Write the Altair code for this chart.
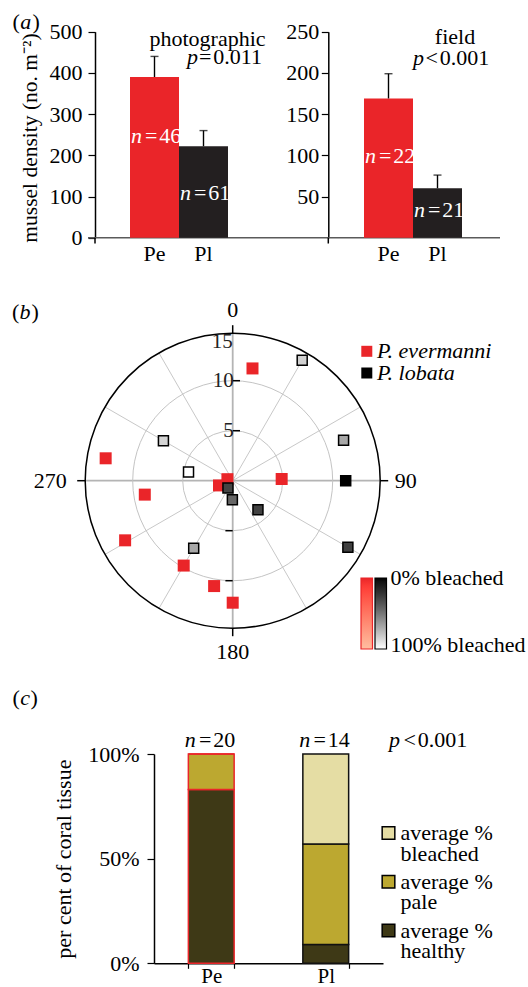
import altair as alt
import pandas as pd

FONT = "Liberation Serif"
FS = 22
RED = "#ea2529"
BLACK = "#231f20"
W, H = 528, 987
HAIR = "\u200a"

# ---------------- data ----------------
species = ["Pe", "Pl"]
photo_mean = [390, 222]
photo_err = [50, 38]
photo_n = [46, 61]
field_mean = [169, 60]
field_err = [30, 16]
field_n = [22, 21]

# polar panel: compass bearing (deg), distance, % bleached
pe_angle = [10, 88, 286, 251, 261, 241, 210, 190, 180, 280]
pe_dist = [11.4, 4.9, 0.55, 1.45, 8.9, 12.3, 9.8, 10.7, 12.2, 12.9]
pe_bleached = [0, 0, 0, 0, 0, 0, 0, 0, 0, 0]
pl_angle = [30, 70, 90, 120, 139, 181, 213, 210, 281, 300]
pl_dist = [13.9, 11.8, 11.3, 13.3, 3.85, 1.9, 0.87, 7.8, 4.5, 8.0]
pl_bleached = [84, 69, 0, 27, 28, 43, 29, 69, 100, 85]

spoke_angles = [0, 30, 60, 90, 120, 150, 180, 210, 240, 270, 300, 330]
ring_values = [5, 10]
ring_labels = [5, 10]
cardinal_angles = [0, 90, 180, 270]
cardinal_labels = ["0", "90", "180", "270"]
sp_names = ["P. evermanni", "P. lobata"]
bleach_labels = ["0% bleached", "100% bleached"]

tissue_species = ["Pe", "Pe", "Pe", "Pl", "Pl", "Pl"]
tissue_state = ["healthy", "pale", "bleached", "healthy", "pale", "bleached"]
tissue_pct = [83, 17, 0, 9, 48, 43]
tissue_n = [20, 14]
state_order = ["healthy", "pale", "bleached"]
state_colors = ["#3e3916", "#bca830", "#e5dda4"]
legend_states = ["bleached", "pale", "healthy"]

# ---------------- layout constants ----------------
A_Y0, A_Y1 = 237.7, 31.7
CX, CY = 232.7, 480.7
PPU = 10.0
DOM = 20
R_OUT = 14.75
C_Y0, C_Y1 = 963.3, 754.0

ONE = pd.DataFrame({"k": [0]})


def seg(s, x, y, align="left", italic=False, color="black", size=FS, angle=0):
    kw = dict(text=s, font=FONT, fontSize=size, fontStyle="italic" if italic else "normal",
              align=align, baseline="middle", color=color)
    if angle:
        kw["angle"] = angle
    return alt.Chart(ONE).mark_text(**kw).encode(x=alt.value(x), y=alt.value(y))


# ---------------- panel (a) ----------------
def density_panel(mean, err, ns, ymax, yvals, axis_x, xr, lab_pad, n_y):
    df = pd.DataFrame({"species": species, "mean": mean, "err": err, "n": ns})
    base = alt.Chart(df).transform_calculate(
        hi="datum.mean + datum.err", rest="'=" + HAIR + "' + datum.n"
    )

    def xs():
        return alt.Scale(domain=species, range=xr, paddingInner=0, paddingOuter=0)

    def ys():
        return alt.Scale(domain=[0, ymax], range=[A_Y0, A_Y1], nice=False, zero=True)

    xax = alt.Axis(orient="bottom", offset=A_Y0 - H, domain=False, ticks=False, labelAngle=0,
                   labelFont=FONT, labelFontSize=FS, labelColor="black", labelPadding=5.5)
    yax = alt.Axis(orient="left", offset=-axis_x, values=yvals, tickSize=7, tickColor="black",
                   tickWidth=1.2, domainColor="black", domainWidth=1.5, labelFont=FONT,
                   labelFontSize=FS, labelColor="black", labelPadding=lab_pad, grid=False)
    bars = base.mark_bar().encode(
        x=alt.X("species:N", scale=xs(), title="", axis=xax),
        y=alt.Y("mean:Q", scale=ys(), title="", axis=yax),
        fill=alt.Fill("species:N", scale=alt.Scale(domain=species, range=[RED, BLACK]), legend=None),
    )
    rule = base.mark_rule(color="black", strokeWidth=1.4).encode(
        x=alt.X("species:N", scale=xs(), axis=None),
        y=alt.Y("mean:Q", scale=ys(), axis=None), y2="hi:Q")
    cap = base.mark_tick(color="black", thickness=1.4, size=8).encode(
        x=alt.X("species:N", scale=xs(), axis=None),
        y=alt.Y("hi:Q", scale=ys(), axis=None))
    parts = [bars, rule, cap]
    for sp, yv in zip(species, n_y):
        f = base.transform_filter(alt.datum.species == sp)
        parts.append(f.mark_text(text="n", font=FONT, fontSize=FS, fontStyle="italic",
                                 align="right", baseline="middle", dx=-12.5, color="white")
                     .encode(x=alt.X("species:N", scale=xs(), axis=None), y=alt.value(yv)))
        parts.append(f.mark_text(font=FONT, fontSize=FS, align="left", baseline="middle",
                                 dx=-9.5, color="white")
                     .encode(x=alt.X("species:N", scale=xs(), axis=None), y=alt.value(yv),
                             text="rest:N"))
    return parts


panel_a1 = density_panel(photo_mean, photo_err, photo_n, 500, [0, 100, 200, 300, 400, 500],
                         95, [130, 228], 6, [136, 192.5])
panel_a2 = density_panel(field_mean, field_err, field_n, 250, [50, 100, 150, 200, 250],
                         328.3, [364, 462], 2.5, [156, 210])

a_lines = [
    alt.Chart(ONE).mark_rule(color="#5a5a5a", strokeWidth=1.6).encode(
        x=alt.value(88), x2=alt.value(500), y=alt.value(A_Y0)),
    alt.Chart(ONE).mark_rule(color="black", strokeWidth=1.5).encode(
        x=alt.value(95), y=alt.value(A_Y0), y2=alt.value(243.5)),
    alt.Chart(ONE).mark_rule(color="black", strokeWidth=1.5).encode(
        x=alt.value(328.3), y=alt.value(A_Y0), y2=alt.value(243.5)),
]

# ---------------- panel (b) polar ----------------
PXS = alt.Scale(domain=[-DOM, DOM], range=[CX - DOM * PPU, CX + DOM * PPU], nice=False, zero=False)
PYS = alt.Scale(domain=[-DOM, DOM], range=[CY + DOM * PPU, CY - DOM * PPU], nice=False, zero=False)


def PX(f):
    return alt.X(f, scale=PXS, axis=None)


def PY(f):
    return alt.Y(f, scale=PYS, axis=None)


def sinr(r, a="datum.angle"):
    return f"({r})*sin({a}*PI/180)"


def cosr(r, a="datum.angle"):
    return f"({r})*cos({a}*PI/180)"


spk = alt.Chart(pd.DataFrame({"angle": spoke_angles})).transform_calculate(
    x0="0", y0="0", x1=sinr(R_OUT), y1=cosr(R_OUT))
spokes_minor = spk.transform_filter("datum.angle % 90 != 0").mark_rule(
    color="#c8c8c8", strokeWidth=1).encode(x=PX("x0:Q"), y=PY("y0:Q"), x2="x1:Q", y2="y1:Q")
spokes_major = spk.transform_filter("datum.angle % 90 == 0").mark_rule(
    color="#b4b4b4", strokeWidth=1.8).encode(x=PX("x0:Q"), y=PY("y0:Q"), x2="x1:Q", y2="y1:Q")

rings = alt.Chart(pd.DataFrame({"r": ring_values})).transform_calculate(
    c="0", sz=f"4*pow(datum.r*{PPU}, 2)").mark_point(
    shape="circle", filled=False, color="#c4c4c4", strokeWidth=1, opacity=1).encode(
    x=PX("c:Q"), y=PY("c:Q"), size=alt.Size("sz:Q", scale=None))
outer = alt.Chart(pd.DataFrame({"r": [R_OUT]})).transform_calculate(
    c="0", sz=f"4*pow(datum.r*{PPU}, 2)").mark_point(
    shape="circle", filled=False, color="black", strokeWidth=1.5, opacity=1).encode(
    x=PX("c:Q"), y=PY("c:Q"), size=alt.Size("sz:Q", scale=None))

card = alt.Chart(pd.DataFrame({"angle": cardinal_angles, "label": cardinal_labels}))
outer_ticks = card.transform_calculate(
    x0=sinr(R_OUT), y0=cosr(R_OUT), x1=sinr(R_OUT + 0.8), y1=cosr(R_OUT + 0.8)).mark_rule(
    color="black", strokeWidth=1.5).encode(x=PX("x0:Q"), y=PY("y0:Q"), x2="x1:Q", y2="y1:Q")

rt = alt.Chart(pd.DataFrame({"r": ring_values}))
ring_ticks_top = rt.transform_calculate(x0="0", x1="0.73", y="datum.r").mark_rule(
    color="black", strokeWidth=1.5).encode(x=PX("x0:Q"), x2="x1:Q", y=PY("y:Q"))
ring_ticks_bot = rt.transform_calculate(x0="-0.73", x1="0", y="-datum.r").mark_rule(
    color="black", strokeWidth=1.5).encode(x=PX("x0:Q"), x2="x1:Q", y=PY("y:Q"))

rl = alt.Chart(pd.DataFrame({"r": ring_labels})).transform_calculate(x="0")
ring_lab = rl.mark_text(font=FONT, fontSize=21, align="right", baseline="middle", dx=1,
                        color="#222").encode(x=PX("x:Q"), y=PY("r:Q"), text="r:Q")
ring_lab15 = alt.Chart(pd.DataFrame({"r": [15]})).transform_calculate(x="0").mark_text(
    font=FONT, fontSize=21, align="right", baseline="middle", dx=0, dy=11, color="#222").encode(
    x=PX("x:Q"), y=PY("r:Q"), text="r:Q")

lab_v = card.transform_filter("datum.angle % 180 == 0").transform_calculate(
    x=sinr(17.1), y=cosr(17.1)).mark_text(
    font=FONT, fontSize=FS, align="center", baseline="middle").encode(
    x=PX("x:Q"), y=PY("y:Q"), text="label:N")
lab_e = card.transform_filter("datum.angle == 90").transform_calculate(
    x=sinr(16.2), y=cosr(16.2)).mark_text(
    font=FONT, fontSize=FS, align="left", baseline="middle").encode(
    x=PX("x:Q"), y=PY("y:Q"), text="label:N")
lab_w = card.transform_filter("datum.angle == 270").transform_calculate(
    x=sinr(16.6), y=cosr(16.6)).mark_text(
    font=FONT, fontSize=FS, align="right", baseline="middle").encode(
    x=PX("x:Q"), y=PY("y:Q"), text="label:N")

pe_df = pd.DataFrame({"angle": pe_angle, "r": pe_dist, "bleached": pe_bleached})
pl_df = pd.DataFrame({"angle": pl_angle, "r": pl_dist, "bleached": pl_bleached})


def grad_legend(x, stroke):
    return alt.Legend(type="gradient", direction="vertical", orient="none",
                      legendX=x, legendY=578, gradientLength=71, gradientThickness=11.5,
                      gradientStrokeColor=stroke, gradientStrokeWidth=1.2,
                      labelExpr="''", padding=0, title="")


pe_pts = alt.Chart(pe_df).transform_calculate(
    x=sinr("datum.r"), y=cosr("datum.r")).mark_square(size=144, opacity=1).encode(
    x=PX("x:Q"), y=PY("y:Q"),
    fill=alt.Fill("bleached:Q", scale=alt.Scale(domain=[100, 0], range=["#ffffff", RED]),
                  legend=grad_legend(361, RED)))
pl_pts = alt.Chart(pl_df).transform_calculate(
    x=sinr("datum.r"), y=cosr("datum.r")).mark_square(
    size=100, opacity=1, stroke="black", strokeWidth=1.5).encode(
    x=PX("x:Q"), y=PY("y:Q"),
    fill=alt.Fill("bleached:Q", scale=alt.Scale(domain=[100, 0], range=["#ffffff", "#000000"]),
                  legend=grad_legend(375, "black")))

polar = alt.layer(spokes_minor, spokes_major, rings, outer, outer_ticks,
                  ring_ticks_top, ring_ticks_bot, ring_lab, ring_lab15,
                  lab_v, lab_e, lab_w, pe_pts, pl_pts).resolve_scale(fill="independent")

sp_df = pd.DataFrame({"name": sp_names})
sp_y = alt.Y("name:N", scale=alt.Scale(type="point", domain=sp_names, range=[351.3, 373], padding=0),
             axis=None)
sp_legend = alt.layer(
    alt.Chart(sp_df).mark_square(size=121, opacity=1).encode(
        x=alt.value(366.8), y=sp_y,
        fill=alt.Fill("name:N", scale=alt.Scale(domain=sp_names, range=[RED, "#000000"]), legend=None)),
    alt.Chart(sp_df).mark_text(font=FONT, fontSize=FS, fontStyle="italic", align="left",
                               baseline="middle").encode(x=alt.value(377), y=sp_y, text="name:N"),
)

bl_df = pd.DataFrame({"label": bleach_labels})
bleach_text = alt.Chart(bl_df).mark_text(font=FONT, fontSize=FS, align="left",
                                         baseline="middle").encode(
    x=alt.value(390.5),
    y=alt.Y("label:N", scale=alt.Scale(type="point", domain=bleach_labels, range=[578, 645],
                                        padding=0), axis=None),
    text="label:N")

# ---------------- panel (c) ----------------
tis = pd.DataFrame({"species": tissue_species, "state": tissue_state, "pct": tissue_pct})
cbase = alt.Chart(tis).transform_calculate(ord="indexof(['healthy','pale','bleached'], datum.state)")


def cxs():
    return alt.Scale(domain=species, range=[154, 383], paddingInner=0.6, paddingOuter=0.3)


cbars = cbase.mark_bar(strokeWidth=1.5).encode(
    x=alt.X("species:N", scale=cxs(), title="",
            axis=alt.Axis(orient="bottom", offset=C_Y0 - H, tickBand="extent", tickSize=5,
                          tickColor="black", tickWidth=1.2, domainColor="black", domainWidth=1.5,
                          labelAngle=0, labelFont=FONT, labelFontSize=21, labelColor="black",
                          labelPadding=-3.2)),
    y=alt.Y("pct:Q", stack="zero",
            scale=alt.Scale(domain=[0, 100], range=[C_Y0, C_Y1], nice=False),
            title="per cent of coral tissue",
            axis=alt.Axis(orient="left", offset=-154, values=[0, 50, 100],
                          labelExpr="datum.value + '%'", tickSize=7, tickColor="black",
                          tickWidth=1.2, domainColor="black", domainWidth=1.5, grid=False,
                          labelFont=FONT, labelFontSize=FS, labelColor="black", labelPadding=8,
                          titleFont=FONT, titleFontSize=FS, titleFontWeight="normal",
                          titleColor="black", titlePadding=12)),
    fill=alt.Fill("state:N", scale=alt.Scale(domain=state_order, range=state_colors), legend=None),
    stroke=alt.Stroke("species:N", scale=alt.Scale(domain=species, range=[RED, "#111111"]), legend=None),
    order=alt.Order("ord:Q"),
)
cn = alt.Chart(pd.DataFrame({"species": species, "n": tissue_n})).transform_calculate(
    rest="'=" + HAIR + "' + datum.n")
cn_it = cn.mark_text(text="n", font=FONT, fontSize=FS, fontStyle="italic", align="right",
                     baseline="middle", dx=-15.5).encode(
    x=alt.X("species:N", scale=cxs(), axis=None), y=alt.value(740))
cn_rest = cn.mark_text(font=FONT, fontSize=FS, align="left", baseline="middle", dx=-12.3).encode(
    x=alt.X("species:N", scale=cxs(), axis=None), y=alt.value(740), text="rest:N")

leg_df = pd.DataFrame({"state": legend_states,
                       "label": ["average %\n" + s for s in legend_states]})
leg_y = alt.Y("state:N", scale=alt.Scale(type="point", domain=legend_states, range=[833, 930.5],
                                          padding=0), axis=None)
c_legend = alt.layer(
    alt.Chart(leg_df).mark_square(size=160, opacity=1, stroke="black", strokeWidth=1.5).encode(
        x=alt.value(388.5), y=leg_y,
        fill=alt.Fill("state:N", scale=alt.Scale(domain=state_order, range=state_colors), legend=None)),
    alt.Chart(leg_df).mark_text(font=FONT, fontSize=FS, align="left", baseline="top", dy=-10,
                                lineBreak="\n", lineHeight=20.7).encode(
        x=alt.value(400.5), y=leg_y, text="label:N"),
)

# ---------------- annotations ----------------
notes = [
    seg("(", 12.5, 22), seg("a", 20.2, 22, italic=True), seg(")", 32.4, 22),
    seg("mussel density (no. m⁻²)", 30.5, 138, align="center", size=21.5, angle=270),
    seg("photographic", 207.5, 38.5, align="center"),
    seg("p", 187, 57, italic=True), seg("=" + HAIR + "0.011", 199, 57),
    seg("field", 455, 36.5, align="center"),
    seg("p", 413, 58, italic=True), seg("<" + HAIR + "0.001", 425.5, 58),
    seg("(", 12, 312), seg("b", 19.6, 312, italic=True), seg(")", 31.4, 312),
    seg("(", 12.5, 697.6), seg("c", 20.2, 697.6, italic=True), seg(")", 30.5, 697.6),
    seg("p", 389, 740, italic=True), seg("<" + HAIR + "0.001", 403.5, 740),
]

chart = alt.layer(
    *a_lines, *panel_a1, *panel_a2, polar, sp_legend, bleach_text,
    cbars, cn_it, cn_rest, c_legend, *notes
).resolve_scale(
    x="independent", y="independent", fill="independent", stroke="independent"
).properties(
    width=W, height=H, autosize=alt.AutoSizeParams(type="none"), padding=0
).configure_view(strokeWidth=0)

chart.save("out.html", embed_options={"renderer": "svg", "actions": False})
